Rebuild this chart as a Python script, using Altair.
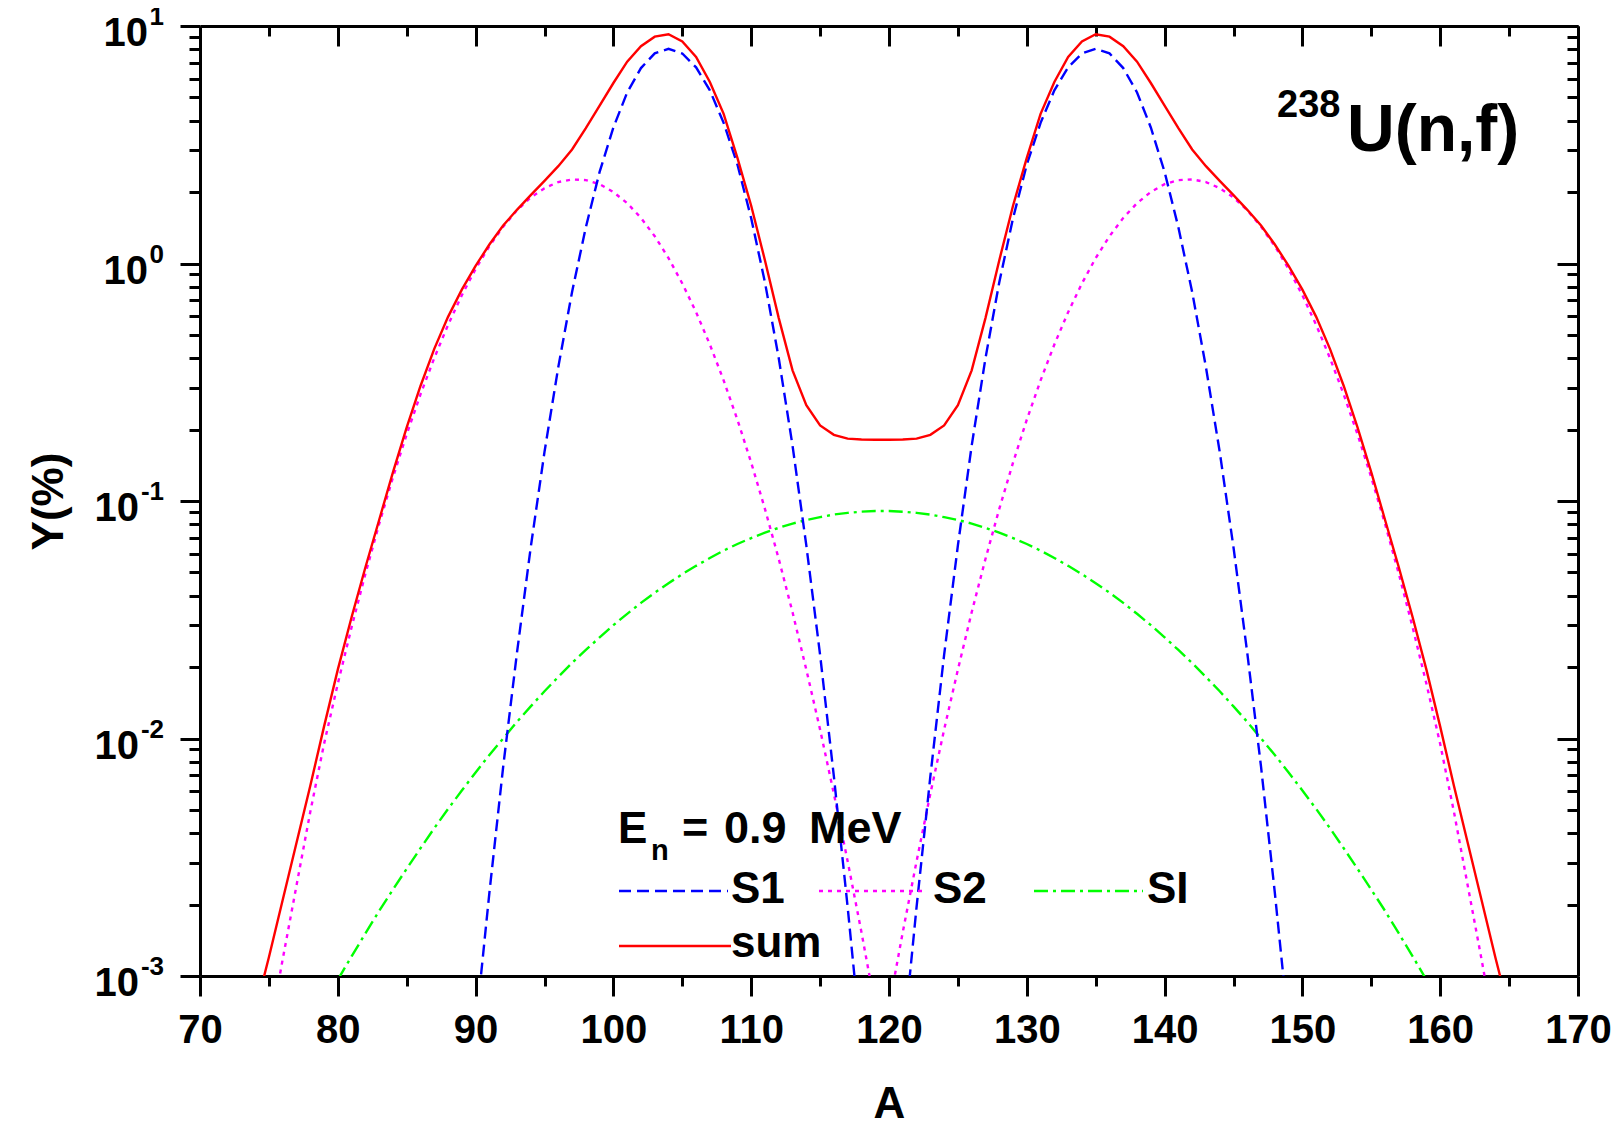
import altair as alt
import pandas as pd

# ---------------- data ----------------
A_SUM = list(range(74, 166))
Y_SUM = [0.000708, 0.00120, 0.00209, 0.00363, 0.00631, 0.01122, 0.0195, 0.0324, 0.0525, 0.0832,
         0.132, 0.204, 0.305, 0.437, 0.596, 0.776, 0.977, 1.202, 1.445, 1.683,
         1.941, 2.228, 2.570, 3.020, 3.715, 4.624, 5.754, 7.079, 8.222, 9.016,
         9.226, 8.610, 7.413, 5.808, 4.266, 2.786, 1.750, 1.030, 0.589, 0.355,
         0.253, 0.208, 0.190, 0.183, 0.1816, 0.1811,
         0.1811, 0.1816, 0.183, 0.190, 0.208, 0.253, 0.355, 0.589, 1.030, 1.750,
         2.786, 4.266, 5.808, 7.413, 8.610, 9.226, 9.016, 8.222, 7.079, 5.754,
         4.624, 3.715, 3.020, 2.570, 2.228, 1.941, 1.683, 1.445, 1.202, 0.977,
         0.776, 0.596, 0.437, 0.305, 0.204, 0.132, 0.0832, 0.0525, 0.0324, 0.0195,
         0.01122, 0.00631, 0.00363, 0.00209, 0.00120, 0.000708]

A_S1 = list(range(90, 150))
Y_S1 = [0.000603, 0.00224, 0.00759, 0.0229, 0.0638, 0.161, 0.366, 0.759, 1.42, 2.43,
        3.74, 5.25, 6.65, 7.67, 8.02, 7.66, 6.70, 5.36, 3.91, 2.61,
        1.55, 0.832, 0.399, 0.171, 0.0650, 0.0225, 0.00692, 0.00195, 0.000501, 0.000115,
        0.000115, 0.000501, 0.00195, 0.00692, 0.0225, 0.0650, 0.171, 0.399, 0.832, 1.55,
        2.61, 3.91, 5.36, 6.70, 7.66, 8.02, 7.67, 6.65, 5.25, 3.74,
        2.43, 1.42, 0.759, 0.366, 0.161, 0.0638, 0.0229, 0.00759, 0.00224, 0.000603]

A_S2 = list(range(75, 165))
Y_S2 = [0.000562, 0.001175, 0.00240, 0.00490, 0.00948, 0.0170, 0.0294, 0.0493, 0.0800, 0.1256,
        0.191, 0.281, 0.400, 0.551, 0.735, 0.948, 1.183, 1.429, 1.675, 1.897,
        2.075, 2.203, 2.259, 2.244, 2.158, 2.000, 1.795, 1.556, 1.303, 1.054,
        0.824, 0.624, 0.456, 0.322, 0.220, 0.145, 0.0925, 0.0570, 0.0340, 0.0195,
        0.0109, 0.00585, 0.00304, 0.00153, 0.000741,
        0.000741, 0.00153, 0.00304, 0.00585, 0.0109, 0.0195, 0.0340, 0.0570, 0.0925, 0.145,
        0.220, 0.322, 0.456, 0.624, 0.824, 1.054, 1.303, 1.556, 1.795, 2.000,
        2.158, 2.244, 2.259, 2.203, 2.075, 1.897, 1.675, 1.429, 1.183, 0.948,
        0.735, 0.551, 0.400, 0.281, 0.191, 0.1256, 0.0800, 0.0493, 0.0294, 0.0170,
        0.00948, 0.00490, 0.00240, 0.001175, 0.000562]

A_SI = list(range(80, 160))
Y_SI = [0.000964, 0.00121, 0.00151, 0.00188, 0.00231, 0.00283, 0.00345, 0.00419, 0.00505, 0.00604,
        0.00719, 0.00853, 0.0100, 0.01175, 0.01365, 0.01581, 0.01816, 0.0208, 0.0236, 0.02667,
        0.0300, 0.0335, 0.03724, 0.04111, 0.04508, 0.0492, 0.05333, 0.05754, 0.0618, 0.06592,
        0.06982, 0.07362, 0.07709, 0.08035, 0.08318, 0.08551, 0.0877, 0.08913, 0.09016, 0.09078,
        0.09078, 0.09016, 0.08913, 0.0877, 0.08551, 0.08318, 0.08035, 0.07709, 0.07362, 0.06982,
        0.06592, 0.0618, 0.05754, 0.05333, 0.0492, 0.04508, 0.04111, 0.03724, 0.0335, 0.0300,
        0.02667, 0.0236, 0.0208, 0.01816, 0.01581, 0.01365, 0.01175, 0.0100, 0.00853, 0.00719,
        0.00604, 0.00505, 0.00419, 0.00345, 0.00283, 0.00231, 0.00188, 0.00151, 0.00121, 0.000964]

X_MAJOR = [70, 80, 90, 100, 110, 120, 130, 140, 150, 160, 170]
X_MINOR = [75, 85, 95, 105, 115, 125, 135, 145, 155, 165]
Y_MAJOR = [0.001, 0.01, 0.1, 1, 10]
Y_EXP = ["-3", "-2", "-1", "0", "1"]
Y_MINOR = [k * d for d in [0.001, 0.01, 0.1, 1] for k in range(2, 10)]

# ---------------- layout ----------------
W, H = 1378, 950
FONT = "Liberation Sans"

x_scale = alt.Scale(domain=[70, 170], nice=False, zero=False)
y_scale = alt.Scale(type="log", domain=[0.001, 10], nice=False)

common = dict(domainColor="black", tickColor="black", labelColor="black",
              titleColor="black", grid=False, tickWidth=3, domainWidth=3)


def ax(values, size, orient, offset=0, domain=True, **kw):
    return alt.Axis(values=values, tickSize=size, orient=orient, offset=offset,
                    domain=domain, **common, **kw)


x_main = ax(X_MAJOR, 20, "bottom", labelFont=FONT, labelFontSize=40,
            labelFontWeight="bold", labelPadding=14, labelFlush=False,
            labelOverlap=False, format="d", title="A", titleFont=FONT,
            titleFontSize=44, titleFontWeight="bold", titleY=141,
            titleBaseline="alphabetic")
y_main = ax(Y_MAJOR, 20, "left", labels=False, title="Y(%)", titleFont=FONT,
            titleFontSize=44, titleFontWeight="bold", titleX=-138, titleY=475,
            titleAngle=270, titleBaseline="alphabetic", titleAlign="center")
x_min_b = ax(X_MINOR, 10, "bottom", domain=False, labels=False, title=None)
y_min_l = ax(Y_MINOR, 11, "left", domain=False, labels=False, title=None)
x_top = ax(X_MAJOR, 20, "bottom", offset=-H, labels=False, title=None)
y_right = ax(Y_MAJOR, 21, "left", offset=-W, labels=False, title=None)
x_top_min = ax(X_MINOR, 10, "bottom", offset=-H, domain=False, labels=False, title=None)
y_right_min = ax(Y_MINOR, 11, "left", offset=-W, domain=False, labels=False, title=None)


def line(a, y, color, dash=None, xaxis=None, yaxis=None):
    df = pd.DataFrame({"A": a, "Y": y})
    kw = dict(color=color, strokeWidth=2.4, clip=True)
    if dash:
        kw["strokeDash"] = dash
    return alt.Chart(df).mark_line(**kw).encode(
        x=alt.X("A:Q", scale=x_scale, axis=xaxis),
        y=alt.Y("Y:Q", scale=y_scale, axis=yaxis),
    )


s1 = line(A_S1, Y_S1, "#0000FF", [12, 6])
s2 = line(A_S2, Y_S2, "#FF00FF", [4, 5])
si = line(A_SI, Y_SI, "#00FF00", [14, 5, 3, 5])
sm = line(A_SUM, Y_SUM, "#FF0000", None, x_main, y_main)

dummy = pd.DataFrame({"A": [120], "Y": [1.0]})


def axis_layer(xa, ya):
    return alt.Chart(dummy).mark_point(opacity=0).encode(
        x=alt.X("A:Q", scale=x_scale, axis=xa),
        y=alt.Y("Y:Q", scale=y_scale, axis=ya),
    )


ax2 = axis_layer(x_min_b, y_min_l)
ax3 = axis_layer(x_top, y_right)
ax4 = axis_layer(x_top_min, y_right_min)

# y-axis labels as 10 with superscript exponent
ylab = alt.Chart(pd.DataFrame({"v": Y_MAJOR, "e": Y_EXP}))
yenc = alt.Y("v:Q", scale=y_scale, axis=None)
ten_a = ylab.transform_filter("length(datum.e) == 1").mark_text(
    text="10", font=FONT, fontSize=40, fontWeight="bold", align="right",
    baseline="alphabetic", dy=20, color="black").encode(x=alt.value(-52), y=yenc)
ten_b = ylab.transform_filter("length(datum.e) == 2").mark_text(
    text="10", font=FONT, fontSize=40, fontWeight="bold", align="right",
    baseline="alphabetic", dy=20, color="black").encode(x=alt.value(-61), y=yenc)
expo = ylab.mark_text(font=FONT, fontSize=26, fontWeight="bold", align="right",
                      baseline="alphabetic", dy=-1, color="black").encode(
    x=alt.value(-36), y=yenc, text="e:N")

one = pd.DataFrame({"k": [0]})


def txt(s, x, y, size, font=FONT):
    return alt.Chart(one).mark_text(text=s, font=font, fontSize=size, fontWeight="bold",
                                    align="left", baseline="alphabetic", color="black"
                                    ).encode(x=alt.value(x), y=alt.value(y))


def sample(x1, x2, y, color, dash=None):
    kw = dict(color=color, strokeWidth=2.4)
    if dash:
        kw["strokeDash"] = dash
    return alt.Chart(one).mark_rule(**kw).encode(
        x=alt.value(x1), x2=alt.value(x2), y=alt.value(y))


annot = [
    txt("238", 1077, 91, 38),
    txt("U(n,f)", 1147, 125, 66),
    txt("E", 418, 817, 44),
    txt("n", 451, 834, 29),
    txt("=", 482, 817, 45),
    txt("0.9", 524, 817, 45),
    txt("MeV", 609, 817, 45),
    sample(419, 528, 865, "#0000FF", [12, 6]),
    txt("S1", 531, 877, 44),
    sample(619, 726, 865, "#FF00FF", [4, 5]),
    txt("S2", 733, 877, 44),
    sample(834, 943, 865, "#00FF00", [14, 5, 3, 5]),
    txt("SI", 947, 877, 44),
    sample(419, 531, 920, "#FF0000"),
    txt("sum", 531, 931, 44),
]

chart = alt.layer(
    ax2, ax3, ax4, si, s2, s1, sm, ten_a, ten_b, expo, *annot
).resolve_axis(x="independent", y="independent").properties(
    width=W, height=H,
    padding={"left": 192, "top": 18, "right": 35, "bottom": 146},
    autosize=alt.AutoSizeParams(type="none"),
).configure_view(stroke=None)

chart.save("out.html", embed_options={"renderer": "svg", "actions": False})
